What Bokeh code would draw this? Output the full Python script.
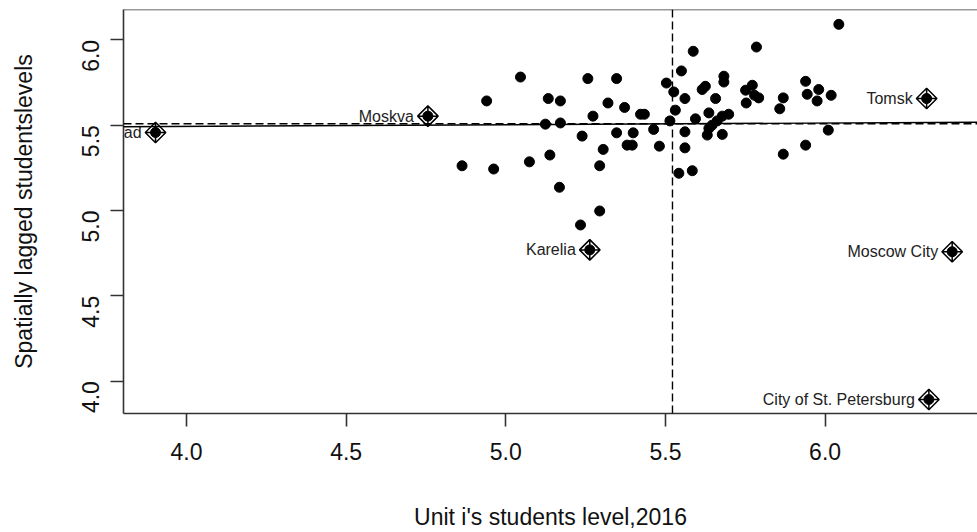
import math
from bokeh.plotting import figure
from bokeh.models import Span, Slope, FixedTicker, Range1d, ColumnDataSource
from bokeh.core.properties import value
from bokeh.embed import file_html
from bokeh.resources import INLINE

# Unit i's students level (x) and spatially lagged level (wx)
x_vals = [6.043, 5.785, 5.587, 5.550, 5.046, 5.257, 5.347, 5.683, 5.683, 5.503,
          5.939, 5.772, 5.625, 5.615, 5.751, 5.526, 5.980, 5.944, 6.019, 5.779,
          5.792, 5.869, 5.133, 5.171, 5.561, 5.657, 5.975, 5.320, 5.753, 5.372,
          5.858, 5.531, 5.636, 5.422, 5.434, 5.698, 5.678, 5.273, 5.594, 5.662,
          5.514, 5.124, 5.171, 5.646, 5.636, 5.463, 6.010, 5.561, 5.347, 5.399,
          5.631, 5.678, 5.239, 5.380, 5.396, 5.481, 5.561, 5.939, 5.305, 5.869,
          5.138, 5.074, 5.294, 5.584, 5.542, 5.168, 5.294, 5.234, 4.940, 4.863,
          4.962]
wx_vals = [6.091, 5.958, 5.933, 5.818, 5.782, 5.773, 5.773, 5.787, 5.753, 5.747,
           5.757, 5.734, 5.728, 5.709, 5.705, 5.695, 5.709, 5.681, 5.675, 5.675,
           5.660, 5.660, 5.656, 5.642, 5.656, 5.656, 5.642, 5.630, 5.630, 5.604,
           5.596, 5.588, 5.572, 5.564, 5.564, 5.564, 5.553, 5.553, 5.537, 5.525,
           5.525, 5.506, 5.513, 5.500, 5.481, 5.475, 5.471, 5.461, 5.455, 5.455,
           5.442, 5.446, 5.436, 5.383, 5.383, 5.377, 5.367, 5.383, 5.358, 5.330,
           5.325, 5.285, 5.262, 5.233, 5.218, 5.136, 4.997, 4.915, 5.642, 5.262,
           5.243]

# Influential regions
inf_names = ["Kaliningrad", "Moskva", "Karelia", "Tomsk", "Moscow City",
             "City of St. Petersburg"]
inf_x = [3.903, 4.756, 5.263, 6.318, 6.398, 6.325]
inf_wx = [5.457, 5.553, 4.769, 5.656, 4.758, 3.892]

x_mean = 5.522
wx_mean = 5.508
reg_slope = 0.010

x_ticks = [4.0, 4.5, 5.0, 5.5, 6.0]
y_ticks = [4.0, 4.5, 5.0, 5.5, 6.0]

FONT = "Liberation Sans"
LINE = "#333333"

p = figure(width=977, height=532, output_backend="svg", toolbar_location=None,
           x_range=Range1d(3.8027, 6.4773), y_range=Range1d(3.810, 6.178),
           min_border_left=123, min_border_right=0, min_border_top=9,
           min_border_bottom=118)
p.background_fill_color = "white"
p.border_fill_color = "white"
p.outline_line_color = None
p.grid.visible = False

for ax in (p.xaxis[0], p.yaxis[0]):
    ax.axis_line_color = LINE
    ax.axis_line_width = 1.6
    ax.major_tick_line_color = LINE
    ax.major_tick_line_width = 1.6
    ax.major_tick_out = 13
    ax.major_tick_in = 0
    ax.minor_tick_line_color = None
    ax.major_label_text_font = FONT
    ax.major_label_text_font_size = "23px"
    ax.major_label_text_color = "#111111"
    ax.axis_label_text_font = FONT
    ax.axis_label_text_font_size = "23px"
    ax.axis_label_text_font_style = "normal"
    ax.axis_label_text_color = "#111111"

p.xaxis.ticker = FixedTicker(ticks=x_ticks)
p.yaxis.ticker = FixedTicker(ticks=y_ticks)
p.xaxis.major_label_overrides = {t: f"{t:.1f}" for t in x_ticks}
p.yaxis.major_label_overrides = {t: f"{t:.1f}" for t in y_ticks}
p.xaxis.axis_label = "Unit i's students level,2016"
p.yaxis.axis_label = "Spatially lagged studentslevels"
p.yaxis.major_label_orientation = math.pi / 2
p.xaxis.major_label_standoff = 16
p.yaxis.major_label_standoff = 20
p.xaxis.axis_label_standoff = 41
p.yaxis.axis_label_standoff = 34

# top border of the box
p.add_layout(Span(location=6.178, dimension="width", line_color=LINE, line_width=1.6))

# mean lines and regression line
p.add_layout(Span(location=x_mean, dimension="height", line_color="black",
                  line_width=1.4, line_dash="8 4"))
p.add_layout(Span(location=wx_mean, dimension="width", line_color="black",
                  line_width=1.4, line_dash="8 4"))
p.add_layout(Slope(gradient=reg_slope, y_intercept=wx_mean - reg_slope * x_mean,
                   line_color="black", line_width=1.4))

src = ColumnDataSource(dict(x=x_vals, y=wx_vals))
p.scatter("x", "y", source=src, size=10, marker="circle", fill_color="black",
          line_color="black")

isrc = ColumnDataSource(dict(x=inf_x, y=inf_wx, name=inf_names))
p.scatter("x", "y", source=isrc, size=10, marker="circle", fill_color="black",
          line_color="black")
p.scatter("x", "y", source=isrc, size=14.5, marker="square_x", angle=math.pi / 4,
          fill_color=None, line_color="black", line_width=1.5)
p.text("x", "y", text="name", source=isrc, x_offset=-14, text_align="right",
       text_baseline="middle", text_font=value(FONT), text_font_size="16px",
       text_color="#222222")

open("out.html", "w").write(file_html(p, INLINE))
